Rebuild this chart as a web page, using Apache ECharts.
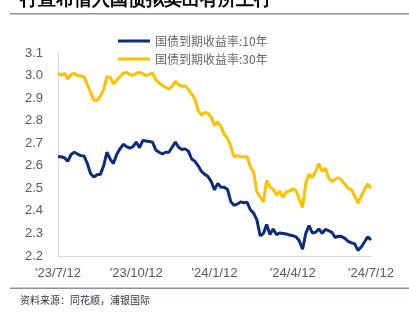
<!DOCTYPE html>
<html><head><meta charset="utf-8">
<script src="https://cdn.jsdelivr.net/npm/echarts@6/dist/echarts.min.js"></script>
<style>html,body{margin:0;padding:0;background:#fff}#c{width:409px;height:314px}</style>
</head><body><div id="c"></div>
<script>
const titleText = "行宣布借入国债拟卖出有所上行";
const sourceText = "资料来源：同花顺，浦银国际";
const seriesNames = ["国债到期收益率:10年", "国债到期收益率:30年"];
const tickLabels = ["'23/7/12", "'23/10/12", "'24/1/12", "'24/4/12", "'24/7/12"];
const tickIndex = [0, 24, 48, 72, 96];
const yTicks = [2.2, 2.3, 2.4, 2.5, 2.6, 2.7, 2.8, 2.9, 3.0, 3.1];
const y10 = [2.640,2.640,2.635,2.620,2.650,2.660,2.652,2.645,2.643,2.610,
2.565,2.550,2.560,2.562,2.600,2.660,2.630,2.610,2.650,2.675,
2.695,2.685,2.678,2.685,2.705,2.680,2.712,2.710,2.708,2.705,
2.670,2.660,2.652,2.660,2.660,2.682,2.705,2.682,2.672,2.675,
2.665,2.630,2.620,2.600,2.575,2.562,2.552,2.530,2.493,2.522,
2.505,2.505,2.495,2.441,2.425,2.430,2.440,2.436,2.438,2.405,
2.390,2.360,2.290,2.300,2.340,2.295,2.320,2.295,2.302,2.300,
2.298,2.293,2.290,2.285,2.268,2.230,2.300,2.335,2.302,2.305,
2.320,2.300,2.318,2.312,2.305,2.282,2.288,2.286,2.278,2.265,
2.258,2.254,2.225,2.240,2.262,2.285,2.271];
const y30 = [3.010,3.002,3.010,2.985,3.005,3.010,3.000,2.998,2.995,2.960,
2.925,2.890,2.890,2.910,2.940,2.995,2.992,2.962,2.980,2.995,
3.010,3.015,3.005,3.000,3.010,3.014,3.008,3.000,3.005,3.012,
2.982,2.967,2.957,2.948,2.940,2.952,2.975,2.960,2.952,2.955,
2.938,2.918,2.895,2.845,2.825,2.837,2.832,2.815,2.778,2.795,
2.773,2.738,2.723,2.685,2.640,2.645,2.640,2.640,2.640,2.595,
2.570,2.485,2.462,2.440,2.535,2.505,2.497,2.470,2.488,2.460,
2.484,2.488,2.498,2.490,2.450,2.415,2.525,2.562,2.548,2.575,
2.610,2.575,2.590,2.546,2.530,2.540,2.548,2.535,2.518,2.500,
2.495,2.465,2.433,2.465,2.495,2.520,2.500];

const categories = y10.map((_, i) => {
  const k = tickIndex.indexOf(i);
  return k >= 0 ? tickLabels[k] : String(i);
});
const font = "'Noto Sans CJK SC', 'Liberation Sans', sans-serif";
const chart = echarts.init(document.getElementById('c'), null, {renderer: 'canvas'});
chart.setOption({
  animation: false,
  backgroundColor: '#fff',
  grid: {left: 58, right: 38, top: 53, bottom: 58, containLabel: false},
  legend: {
    orient: 'vertical', left: 113, top: 30, itemWidth: 32, itemHeight: 3, itemGap: 6,
    icon: 'rect',
    textStyle: {color: '#666', fontSize: 12, fontFamily: font, padding: [0, 0, 0, 0]},
    data: seriesNames
  },
  xAxis: {
    type: 'category', data: categories, boundaryGap: false,
    axisLine: {lineStyle: {color: '#d9d9d9', width: 1}},
    axisTick: {show: false},
    axisLabel: {
      interval: (i) => tickIndex.indexOf(i) >= 0,
      color: '#595959', fontSize: 13, fontFamily: "'Liberation Sans', sans-serif", margin: 11,
      showMinLabel: true, showMaxLabel: true
    },
    splitLine: {show: false}
  },
  yAxis: {
    type: 'value', min: yTicks[0], max: yTicks[yTicks.length - 1], interval: 0.1,
    axisLine: {show: true, lineStyle: {color: '#d9d9d9', width: 1}},
    axisTick: {show: false},
    splitLine: {show: false},
    axisLabel: {color: '#595959', fontSize: 13, fontFamily: "'Liberation Sans', sans-serif", margin: 15,
      formatter: (v) => v.toFixed(1)}
  },
  series: [
    {name: seriesNames[0], type: 'line', data: y10, showSymbol: false, symbol: 'none',
     lineStyle: {color: '#0B2D7A', width: 3}, itemStyle: {color: '#0B2D7A'}},
    {name: seriesNames[1], type: 'line', data: y30, showSymbol: false, symbol: 'none',
     lineStyle: {color: '#FFC000', width: 3}, itemStyle: {color: '#FFC000'}}
  ],
  graphic: [
    {type: 'text', left: 20, top: -9, style: {text: titleText, fontSize: 18, fontWeight: 'bold', fill: '#000', font: "bold 18px 'Noto Sans CJK SC'"}},
    {type: 'rect', shape: {x: 10, y: 13, width: 399, height: 1.5}, style: {fill: '#8E8EB4'}},
    {type: 'rect', shape: {x: 10, y: 287.5, width: 399, height: 1.5}, style: {fill: '#8E8EB4'}},
    {type: 'text', left: 20, top: 295, style: {text: sourceText, fill: '#333', font: "10px 'Noto Sans CJK SC'"}}
  ]
});
</script></body></html>
